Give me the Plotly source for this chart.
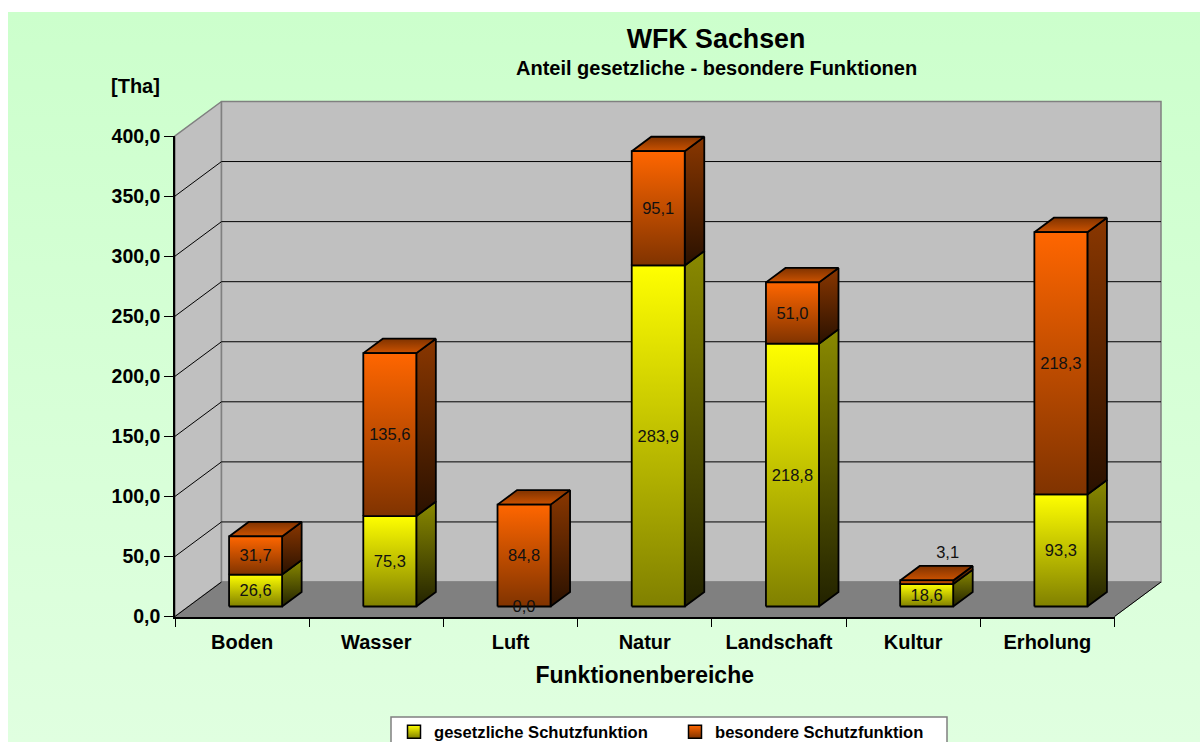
import plotly.graph_objects as go

# ---- data ----
categories = ["Boden", "Wasser", "Luft", "Natur", "Landschaft", "Kultur", "Erholung"]
gesetzlich = [26.6, 75.3, 0.0, 283.9, 218.8, 18.6, 93.3]
besonders = [31.7, 135.6, 84.8, 95.1, 51.0, 3.1, 218.3]
y_ticks = [0, 50, 100, 150, 200, 250, 300, 350, 400]
series_names = ["gesetzliche Schutzfunktion", "besondere Schutzfunktion"]

W, H = 1200, 742
# plot frame in pixels (front plane of the 3D box)
PX0, PX1, PY0, PY1 = 175, 1114.5, 616.5, 136
DX_PX, DY_PX = 46.5, 34.5
ncat = len(categories)
xu = (PX1 - PX0) / ncat      # px per category
yu = (PY0 - PY1) / 400       # px per value
DX, DY = DX_PX / xu, DY_PX / yu
Z0, Z1 = 0.29, 0.71          # depth span of the bars
BAR = 0.395                  # bar width in category units


def proj(x, y, z=0.0):
    return x + z * DX, y + z * DY


def poly(pts):
    p = list(pts) + [pts[0]]
    return [a for a, _ in p], [b for _, b in p]


def px2x(p):
    return (p - PX0) / xu


def px2y(p):
    return (PY0 - p) / yu


fig = go.Figure()


def face(pts, c0=None, c1=None, solid=None, line="black", lw=1.8):
    xs, ys = poly(pts)
    kw = dict(fillcolor=solid) if solid else dict(
        fillgradient=dict(type="vertical", colorscale=[[0, c0], [1, c1]]))
    fig.add_trace(go.Scatter(x=xs, y=ys, mode="lines", fill="toself",
                             line=dict(color=line, width=lw),
                             hoverinfo="skip", showlegend=False, **kw))


# page background
face([(px2x(8), px2y(12)), (px2x(W), px2y(12)), (px2x(W), px2y(H)), (px2x(8), px2y(H))],
     c0="#e0ffe0", c1="#ccffcc", line="rgba(0,0,0,0)", lw=0)

# walls and floor
GR = "#808080"
face([proj(0, 0), proj(0, 400), proj(0, 400, 1), proj(0, 0, 1)], solid="#c0c0c0", line=GR, lw=1.5)
face([proj(0, 0, 1), proj(0, 400, 1), proj(ncat, 400, 1), proj(ncat, 0, 1)], solid="#c0c0c0", line=GR, lw=1.5)
face([proj(0, 0), proj(0, 0, 1), proj(ncat, 0, 1), proj(ncat, 0)], solid=GR, line=GR, lw=1)

# gridlines
gx, gy = [], []
for t in y_ticks[1:-1]:
    for a in (proj(0, t), proj(0, t, 1), proj(ncat, t, 1)):
        gx.append(a[0]); gy.append(a[1])
    gx.append(None); gy.append(None)
a, b = proj(0, 0), proj(0, 0, 1)
gx += [a[0], b[0], None]; gy += [a[1], b[1], None]
a, b = proj(ncat, 0), proj(ncat, 0, 1)
gx += [a[0], b[0]]; gy += [a[1], b[1]]
fig.add_trace(go.Scatter(x=gx, y=gy, mode="lines", line=dict(color="#000000", width=1),
                         hoverinfo="skip", showlegend=False))


def box(i, lo, hi, fc, sc, top=None):
    l, r = i + 0.5 - BAR / 2, i + 0.5 + BAR / 2
    face([proj(r, lo, Z0), proj(r, lo, Z1), proj(r, hi, Z1), proj(r, hi, Z0)], sc[0], sc[1])
    if top:
        face([proj(l, hi, Z0), proj(l, hi, Z1), proj(r, hi, Z1), proj(r, hi, Z0)], top[0], top[1])
    face([proj(l, lo, Z0), proj(l, hi, Z0), proj(r, hi, Z0), proj(r, lo, Z0)], fc[0], fc[1])


YF = ("#808000", "#ffff00"); YS = ("#222200", "#8a8a00")
OF = ("#803300", "#ff6600"); OS = ("#2a1100", "#8a3700"); OT = ("#cc5200", "#803300")

for i in range(ncat):
    g, b_ = gesetzlich[i], besonders[i]
    if g > 0:
        box(i, 0, g, YF, YS)
    box(i, g, g + b_, OF, OS, OT)

# data labels
lx, ly, lt = [], [], []
for i in range(ncat):
    g, b_ = gesetzlich[i], besonders[i]
    for lo, v in ((0, g), (g, b_)):
        x_, y_ = proj(i + 0.5, lo + v / 2, Z0)
        y_ -= 1.5 / yu
        if i == 5 and lo > 0:   # moved label of the thin Kultur segment
            x_ += 21 / xu
            y_ += 29.5 / yu
        lx.append(x_); ly.append(y_); lt.append(f"{v:.1f}".replace(".", ","))
fig.add_trace(go.Scatter(x=lx, y=ly, text=lt, mode="text", textposition="middle center",
                         textfont=dict(family="Liberation Sans", size=16.5, color="#111111"),
                         hoverinfo="skip", showlegend=False))

# carriers so the frame axes are drawn
fig.add_trace(go.Scatter(x=[0, ncat], y=[0, 0], xaxis="x2", yaxis="y2", mode="none",
                         hoverinfo="skip", showlegend=False))
fig.add_trace(go.Scatter(x=[0, ncat], y=[0, 0], xaxis="x3", yaxis="y2", mode="none",
                         hoverinfo="skip", showlegend=False))

# legend entries
for name, c0, c1 in ((series_names[0], "#808000", "#ffff00"), (series_names[1], "#803300", "#ff6600")):
    fig.add_trace(go.Scatter(x=[None], y=[None], name=name, mode="markers",
                             marker=dict(symbol="square", size=13, color=c1,
                                         gradient=dict(type="vertical", color=c0),
                                         line=dict(color="black", width=1.5))))

FONT = "Liberation Sans"
fx = [PX0 / W, PX1 / W]
fy = [1 - PY0 / H, 1 - PY1 / H]
fig.update_layout(
    width=W, height=H, autosize=False,
    margin=dict(l=0, r=0, t=0, b=0, autoexpand=False),
    paper_bgcolor="white", plot_bgcolor="rgba(0,0,0,0)",
    separators=",.",
    font=dict(family=FONT, color="black"),
    title=dict(text="<b>WFK Sachsen</b>", x=716 / W, y=1 - 39 / H, xanchor="center", yanchor="middle",
               font=dict(size=26.8)),
    # full-canvas value axes used by all marks
    xaxis=dict(domain=[0, 1], range=[px2x(0), px2x(W)], visible=False),
    yaxis=dict(domain=[0, 1], range=[px2y(H), px2y(0)], visible=False),
    # frame axes: labels, ticks
    xaxis2=dict(domain=fx, range=[0, ncat], anchor="y2", tickmode="array",
                tickvals=[i + 0.5 for i in range(ncat)], ticktext=[f"<b>{c}</b>" for c in categories],
                ticks="outside", ticklen=7, tickwidth=0, tickcolor="rgba(0,0,0,0)",
                tickfont=dict(size=20), showgrid=False, zeroline=False, showline=True,
                linecolor="black", linewidth=1.5,
                title=dict(text="<b>Funktionenbereiche</b>", font=dict(size=23), standoff=15)),
    xaxis3=dict(overlaying="x2", range=[0, ncat], side="bottom", anchor="y2",
                tickmode="array", tickvals=list(range(ncat + 1)), ticktext=[""] * (ncat + 1),
                ticks="outside", ticklen=9, tickwidth=1.2, tickcolor="black", showgrid=False, zeroline=False),
    yaxis2=dict(domain=fy, range=[0, 400], anchor="x2", tickmode="array", tickvals=y_ticks,
                tickformat=".1f", ticks="outside", ticklen=9, tickwidth=1.2, tickcolor="black",
                tickfont=dict(size=19.5, weight="bold"), showgrid=False, zeroline=False,
                showline=True, linecolor="black", linewidth=1.5),
    legend=dict(orientation="h", x=394 / W, xanchor="left", y=1 - 714.5 / H, yanchor="top",
                bgcolor="rgba(0,0,0,0)", borderwidth=0,
                font=dict(size=16.6, weight="bold"), itemwidth=30, entrywidth=236, entrywidthmode="pixels",
                itemclick=False, itemdoubleclick=False),
    shapes=[dict(type="rect", xref="paper", yref="paper", x0=391 / W, x1=947 / W,
                 y0=1 - 750 / H, y1=1 - 717 / H, fillcolor="white",
                 line=dict(color="#808080", width=1.5), layer="above")],
    annotations=[dict(text="<b>[Tha]</b>", xref="paper", yref="paper", x=135 / W, y=1 - 86 / H,
                      showarrow=False, font=dict(size=20), xanchor="center", yanchor="middle"),
                 dict(text="<b>Anteil gesetzliche - besondere Funktionen</b>", xref="paper", yref="paper",
                      x=716.5 / W, y=1 - 68 / H, showarrow=False, font=dict(size=20),
                      xanchor="center", yanchor="middle")],
    hovermode=False,
)
fig.write_html("out.html", config=dict(displayModeBar=False),
               post_script="document.body.style.margin='0';document.body.style.overflow='hidden';")
